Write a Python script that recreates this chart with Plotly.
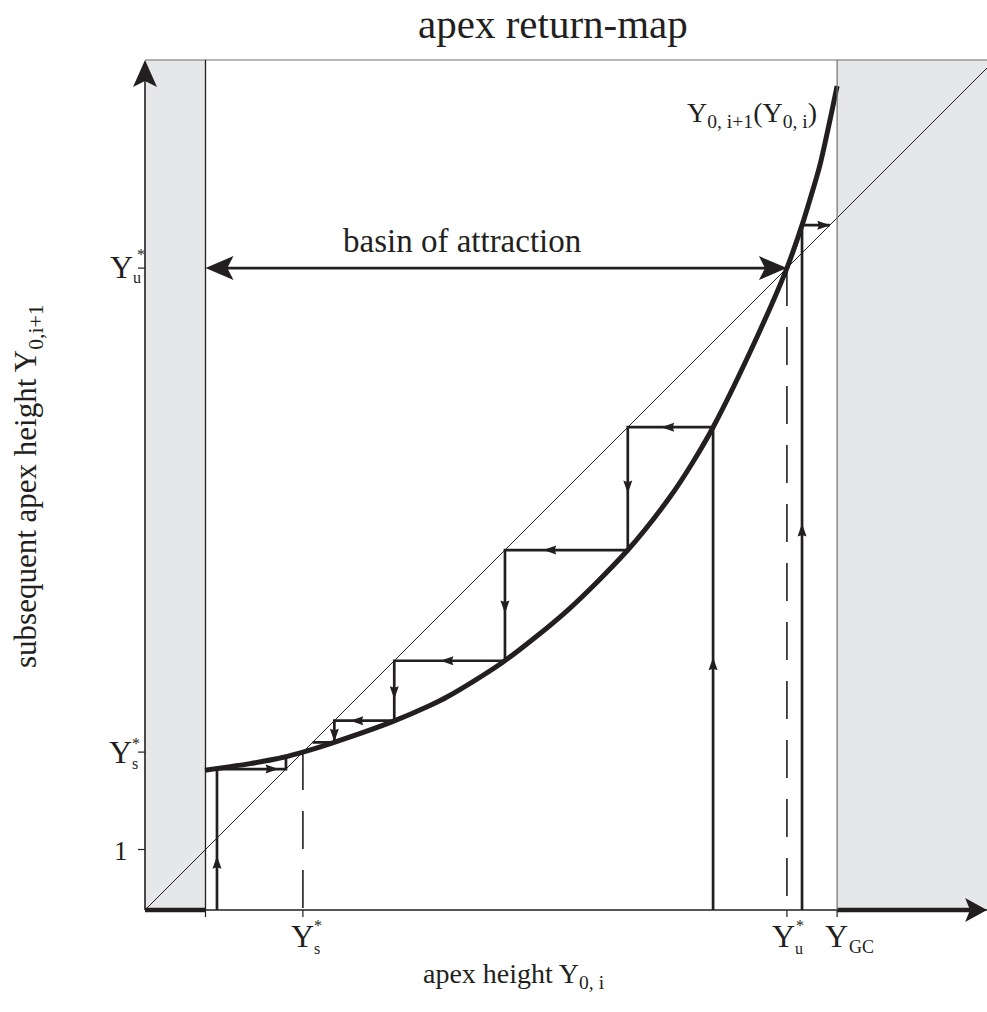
import plotly.graph_objects as go

# ---------------- data (units: leg length) ----------------
curve_x = [0.99, 1.74, 2.31, 2.61, 3.09, 4.08, 4.71, 4.99, 5.92, 6.98, 7.98, 8.68,
           9.06, 9.39, 10.12, 10.61, 10.86, 10.99, 11.16, 11.44]
curve_y = [2.31, 2.42, 2.53, 2.61, 2.76, 3.11, 3.38, 3.52, 4.10, 4.95, 5.95, 6.83,
           7.41, 7.98, 9.48, 10.61, 11.32, 11.74, 12.33, 13.62]

y_leg = 1.0          # lower admissible bound (leg length)
y_stable = 2.61      # Y_s*
y_unstable = 10.61   # Y_u*
y_gc = 11.44         # Y_GC
x_end = 13.92        # end of horizontal axis
y_end = 14.05        # end of vertical axis

# cobweb iterations: start value and successive iterates
cob_a_start, cob_a_iter = 1.19, [2.33, 2.53]
cob_b_start, cob_b_iter = 9.39, [7.98, 5.95, 4.12, 3.13, 2.77]
cob_c_start, cob_c_iter = 10.86, [11.32]

# small direction arrows on the cobwebs: (x, y, direction)
cob_arrows = [
    (1.19, 0.79, "up"), (2.10, 2.33, "right"),
    (9.39, 4.07, "up"), (8.64, 7.98, "left"), (7.98, 6.99, "down"),
    (6.69, 5.95, "left"), (5.95, 5.01, "down"), (4.99, 4.12, "left"),
    (4.12, 3.59, "down"), (3.50, 3.13, "left"), (3.13, 2.89, "down"),
    (10.86, 6.28, "up"), (11.22, 11.32, "right"),
]

x_tick_vals = [y_leg, y_stable, y_unstable, y_gc]
y_tick_vals = [y_leg, y_stable, y_unstable]

# ---------------- styling ----------------
BLACK = "#231f20"
FILL = "#e6e7e8"
FRAME = "#6d6e71"
FONT = "Liberation Serif"
U = 60.5  # pixels per data unit (layout helper only)


def px_x(p):
    return (p - 145) / U


def px_y(p):
    return (910 - p) / U


def staircase(x0, iters, end_horizontal):
    xs, ys = [x0], [0.0]
    x = x0
    for k, v in enumerate(iters):
        xs.append(x); ys.append(v)
        if k < len(iters) - 1 or end_horizontal:
            xs.append(v); ys.append(v)
        x = v
    return xs, ys


DIRS = {"up": (0, 1), "down": (0, -1), "left": (-1, 0), "right": (1, 0)}


def head_path(tx, ty, d, L, W, notch=0.22):
    dx, dy = DIRS[d]
    L, W = L / U, W / U
    bx, by = tx - dx * L, ty - dy * L
    nx, ny = -dy, dx
    p1 = (bx + nx * W / 2, by + ny * W / 2)
    p2 = (tx - dx * L * (1 - notch), ty - dy * L * (1 - notch))
    p3 = (bx - nx * W / 2, by - ny * W / 2)
    return (f"M{tx},{ty} L{p1[0]},{p1[1]} L{p2[0]},{p2[1]} "
            f"L{p3[0]},{p3[1]} Z")


def head_shape(tx, ty, d, L, W, notch=0.22):
    return dict(type="path", xref="x", yref="y",
                path=head_path(tx, ty, d, L, W, notch),
                fillcolor=BLACK, line=dict(width=0), layer="above")


fig = go.Figure()


def line(xs, ys, width, color=BLACK, dash=None):
    fig.add_trace(go.Scatter(x=xs, y=ys, mode="lines", hoverinfo="skip",
                             line=dict(color=color, width=width, dash=dash),
                             showlegend=False))


# diagonal
line([0, x_end], [0, x_end], 1.0)

# dashed projections of the fixed points
line([y_stable, y_stable], [y_stable, -7 / U], 1.6, dash="38px,21px")
line([y_unstable, y_unstable], [y_unstable, -7 / U], 1.6, dash="38px,21px")

# cobwebs
for x0, it, eh in [(cob_a_start, cob_a_iter, False),
                   (cob_b_start, cob_b_iter, True),
                   (cob_c_start, cob_c_iter, True)]:
    xs, ys = staircase(x0, it, eh)
    line(xs, ys, 2.7)

# return map curve
fig.add_trace(go.Scatter(x=curve_x, y=curve_y, mode="lines", hoverinfo="skip",
                         line=dict(color=BLACK, width=5, shape="spline",
                                   smoothing=0.8),
                         showlegend=False))

# axes
line([0, 0], [0, y_end - 20 / U], 1.6)                 # vertical axis
line([0, x_end], [0, 0], 1.3)                          # horizontal axis (thin)
line([0, y_leg], [0, 0], 4.5)                          # thick segment left
line([y_gc, x_end - 16 / U], [0, 0], 4.5)              # thick segment right
line([0, x_end], [y_end, y_end], 1.0, color=FRAME)     # top frame
line([y_leg, y_leg], [0, y_end], 1.3)                  # left region border
line([y_gc, y_gc], [0, y_end], 1.2, color=FRAME)       # right region border

# ticks
for v in y_tick_vals:
    line([-7 / U, 0], [v, v], 1.2)
for v in x_tick_vals:
    line([v, v], [0, -7 / U], 1.2)

# basin of attraction double arrow line
line([y_leg + 20 / U, y_unstable - 20 / U], [y_unstable, y_unstable], 2.6)

shapes = [
    dict(type="rect", xref="x", yref="y", x0=0, x1=y_leg, y0=0, y1=y_end,
         fillcolor=FILL, line=dict(width=0), layer="below"),
    dict(type="rect", xref="x", yref="y", x0=y_gc, x1=x_end, y0=0, y1=y_end,
         fillcolor=FILL, line=dict(width=0), layer="below"),
    head_shape(0, y_end, "up", 27, 24),
    head_shape(x_end, 0, "right", 22, 24),
    head_shape(y_leg, y_unstable, "left", 28, 24),
    head_shape(y_unstable, y_unstable, "right", 28, 24),
]
for (x, y, d) in cob_arrows:
    dx, dy = DIRS[d]
    L = 13
    shapes.append(head_shape(x + dx * L / 2 / U, y + dy * L / 2 / U, d, L, 9, 0.12))


def ann(text, x, y, size, xanchor="center", yanchor="middle", angle=0):
    return dict(x=px_x(x), y=px_y(y), xref="x", yref="y", text=text,
                showarrow=False, xanchor=xanchor, yanchor=yanchor,
                textangle=angle, borderpad=0,
                font=dict(family=FONT, size=size, color=BLACK))


annotations = [
    ann("apex return-map", 553, 24, 41),
    ann("basin of attraction", 462, 241, 33),
    ann("apex height Y<sub>0, i</sub>", 422, 975, 28, xanchor="left"),
    ann("subsequent apex height Y<sub>0,i+1</sub>", 28, 486, 31, angle=-90),
    ann("Y<sub>0, i+1</sub>(Y<sub>0, i</sub>)", 686, 114, 28, xanchor="left"),
    # vertical axis labels
    ann("Y", 121, 267, 32), ann("*", 141, 254, 16), ann("u", 137, 277, 16),
    ann("Y", 120, 752, 32), ann("*", 136, 743, 16), ann("s", 135, 763, 16),
    ann("1", 121, 851, 27),
    # horizontal axis labels
    ann("Y", 302, 936, 32), ann("*", 318, 925, 16), ann("s", 317, 948, 16),
    ann("Y", 783, 936, 32), ann("*", 800, 925, 16), ann("u", 799, 948, 16),
    ann("Y", 836, 936, 32), ann("GC", 848, 947, 18, xanchor="left"),
]

fig.update_layout(
    width=987, height=1012,
    margin=dict(l=0, r=0, t=0, b=0, pad=0),
    paper_bgcolor="white", plot_bgcolor="white",
    xaxis=dict(range=[-145 / U, 842 / U], visible=False, fixedrange=True),
    yaxis=dict(range=[-102 / U, 910 / U], visible=False, fixedrange=True),
    shapes=shapes, annotations=annotations, showlegend=False,
)

fig.write_html("out.html",
               config={"displayModeBar": False},
               post_script="document.body.style.margin='0';")
